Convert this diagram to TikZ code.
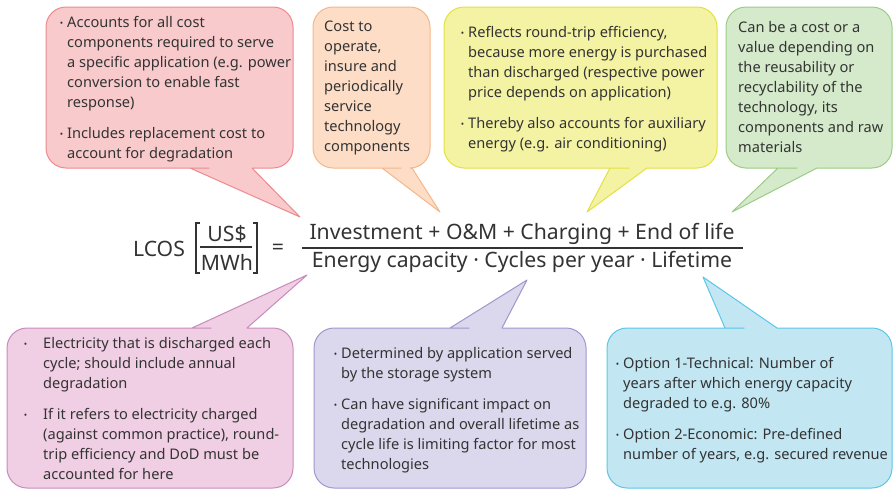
\documentclass[tikz,border=0pt]{standalone}
\usepackage{fontspec}
\setmainfont{Noto Sans}
\usetikzlibrary{positioning}

\definecolor{textgrey}{HTML}{333333}
\definecolor{redfill}{HTML}{F8CACC}    \definecolor{redline}{HTML}{EC8A8E}
\definecolor{orangefill}{HTML}{FDDDC6} \definecolor{orangeline}{HTML}{F6B688}
\definecolor{yellowfill}{HTML}{F4F3A4} \definecolor{yellowline}{HTML}{E3E040}
\definecolor{greenfill}{HTML}{D4EACB}  \definecolor{greenline}{HTML}{9ACD84}
\definecolor{pinkfill}{HTML}{F0CEE3}   \definecolor{pinkline}{HTML}{C98ABD}
\definecolor{purplefill}{HTML}{DBD7EC} \definecolor{purpleline}{HTML}{9F97CE}
\definecolor{bluefill}{HTML}{C2E6F2}   \definecolor{blueline}{HTML}{5CC6E8}

% bullets hanging left of the text
\newcommand{\bul}{\llap{\raisebox{0.5pt}{\small\textbullet}\hspace{4pt}}}
\newcommand{\bulw}{\llap{\raisebox{0.5pt}{\small\textbullet}\hspace{16pt}}}

\begin{document}
\begin{tikzpicture}[x=1pt,y=-1pt]

\tikzset{txt/.style={font=\fontsize{14.6}{20}\selectfont,text=textgrey,align=left,inner sep=0pt,anchor=north west},
eqn/.style={font=\fontsize{21.2}{24}\selectfont,text=textgrey,inner sep=0pt},
bubble/.style={line width=1pt,line join=round}}

\useasboundingbox (0,0) rectangle (894,490);

% Upper bubbles, tails pointing down
\draw[bubble,draw=redline,fill=redfill] (300,217) -- (252,168) -- (253,168) [rounded corners=20pt] -- (293,168) -- (293,7) -- (46,7) -- (46,168) -- (189,168) [sharp corners] -- (190,168) -- cycle;
\draw[bubble,draw=orangeline,fill=orangefill] (440,212) -- (412,168) -- (413,168) [rounded corners=20pt] -- (430,168) -- (430,7) -- (313,7) -- (313,168) -- (381,168) [sharp corners] -- (382,168) -- cycle;
\draw[bubble,draw=yellowline,fill=yellowfill] (587,212) -- (647,168) -- (648,168) [rounded corners=20pt] -- (717,168) -- (717,7) -- (444,7) -- (444,168) -- (609,168) [sharp corners] -- (610,168) -- cycle;
\draw[bubble,draw=greenline,fill=greenfill] (732,212) -- (817,168) -- (818,168) [rounded corners=20pt] -- (892,168) -- (892,7) -- (726,7) -- (726,168) -- (777,168) [sharp corners] -- (778,168) -- cycle;

% Lower bubbles, tails pointing up
\draw[bubble,draw=pinkline,fill=pinkfill] (307,275) -- (247,328) -- (248,328) [rounded corners=20pt] -- (293,328) -- (293,488) -- (7,488) -- (7,328) -- (191,328) [sharp corners] -- (192,328) -- cycle;
\draw[bubble,draw=purpleline,fill=purplefill] (527,280) -- (502,328) -- (503,328) [rounded corners=20pt] -- (586,328) -- (586,488) -- (314,488) -- (314,328) -- (449,328) [sharp corners] -- (450,328) -- cycle;
\draw[bubble,draw=blueline,fill=bluefill] (703,277) -- (777,328) -- (778,328) [rounded corners=20pt] -- (892,328) -- (892,488) -- (607,488) -- (607,328) -- (724,328) [sharp corners] -- (725,328) -- cycle;

% Bubble texts
\node (capexTxt) [txt] at (67,16) {\bul Accounts for all cost\\components required to serve\\a specific application (e.g. power\\conversion to enable fast\\response)\\[11pt]\bul Includes replacement cost to\\account for degradation};
\node (omTxt) [txt] at (324,21) {Cost to\\operate,\\insure and\\periodically\\service\\technology\\components};
\node (chargeTxt) [txt] at (468,26) {\bul Reflects round-trip efficiency,\\because more energy is purchased\\than discharged (respective power\\price depends on application)\\[11pt]\bul Thereby also accounts for auxiliary\\energy (e.g. air conditioning)};
\node (eolTxt) [txt] at (738,21) {Can be a cost or a\\value depending on\\the reusability or\\recyclability of the\\technology, its\\components and raw\\materials};
\node (capTxt) [txt] at (43,337) {\bulw Electricity that is discharged each\\cycle; should include annual\\degradation\\[11pt]\bulw If it refers to electricity charged\\(against common practice), round-\\trip efficiency and DoD must be\\accounted for here};
\node (cycTxt) [txt] at (341,347) {\bul Determined by application served\\by the storage system\\[11pt]\bul Can have significant impact on\\degradation and overall lifetime as\\cycle life is limiting factor for most\\technologies};
\node (lifeTxt) [txt] at (623,357) {\bul Option 1-Technical: Number of\\years after which energy capacity\\degraded to e.g. 80\%\\[11pt]\bul Option 2-Economic: Pre-defined\\number of years, e.g. secured revenue};

% LCOS formula
\node (lcos) [eqn] at (159,249) {LCOS};
\node (usd) [eqn] at (227,234) {US\$};
\node (mwh) [eqn] at (227,262) {MWh};
\draw[textgrey,line width=1.3pt] (200,223) -- (196,223) -- (196,273) -- (200,273);
\draw[textgrey,line width=1.3pt] (253,223) -- (257,223) -- (257,273) -- (253,273);
\draw[textgrey,line width=1.3pt] (200,247) -- (252,247);
\node (equals) [eqn] at (278,249) {=};
\node (num) [eqn] at (522,234) {Investment + O\&M + Charging + End of life};
\node (den) [eqn] at (522,262) {Energy capacity · Cycles per year · Lifetime};
\draw[textgrey,line width=1.3pt] (302,248) -- (743,248);

\end{tikzpicture}
\end{document}
